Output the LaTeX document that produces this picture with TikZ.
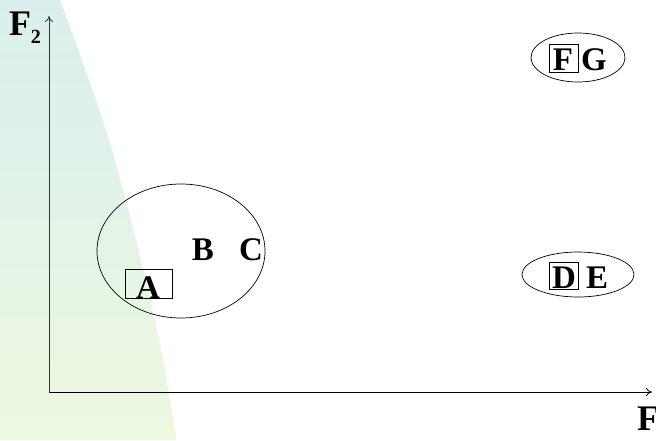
\documentclass[tikz,border=0pt]{standalone}
\usepackage{fontspec}
\setmainfont{Liberation Serif}
\usetikzlibrary{arrows.meta,shapes.geometric}
\definecolor{bgtop}{RGB}{218,239,237}
\definecolor{bgbottom}{RGB}{237,248,224}
\definecolor{axisgray}{HTML}{333333}
\tikzset{
  letter/.style={anchor=base, inner sep=0pt, font=\fontsize{33}{33}\selectfont\bfseries},
  markbox/.style={draw, line width=0.7pt, inner sep=0pt, minimum width=29pt, minimum height=28pt},
  cluster/.style={draw, line width=0.7pt, ellipse, inner sep=0pt},
  axis/.style={-{To[length=6pt,width=8pt]}, draw=axisgray, line width=0.8pt}
}

\begin{document}
\begin{tikzpicture}[x=1pt,y=-1pt]
  \useasboundingbox (0,0) rectangle (656,440);
  % shaded region
  \shade[top color=bgtop, bottom color=bgbottom]
    (0,0) -- plot[smooth, tension=0.6] coordinates {(60,0) (112,150) (157,330) (176,440)}
    -- (0,440) -- cycle;

  % axes
  \coordinate (origin) at (49,392);
  \coordinate (ytip) at (49,16);
  \coordinate (xtip) at (652,392);
  \draw[axis] (origin) -- (ytip);
  \draw[axis, draw=black] (origin) -- (xtip);
  \node[anchor=base, inner sep=0pt] (ylab) at (25,35)
    {\bfseries\fontsize{36}{36}\selectfont F\raisebox{-8pt}{\fontsize{20}{20}\selectfont 2}};
  \node[anchor=base west, inner sep=0pt] (xlab) at (637,430)
    {\bfseries\fontsize{36}{36}\selectfont F\raisebox{-8pt}{\fontsize{20}{20}\selectfont 1}};

  % cluster A B C
  \node[cluster, minimum width=168pt, minimum height=134pt] (abc) at (181,251) {};
  \node[markbox, minimum width=47pt, minimum height=29pt] (boxA) at (148.5,283.5) {};
  \node[letter] (A) at (148,298) {A};
  \node[letter] (B) at (203,260) {B};
  \node[letter] (C) at (251,260) {C};

  % cluster F G
  \node[cluster, minimum width=94pt, minimum height=49pt] (fg) at (578,57.5) {};
  \node[markbox] (boxF) at (563.5,58) {};
  \node[letter] (F) at (563,70) {F};
  \node[letter] (G) at (594,70) {G};

  % cluster D E
  \node[cluster, minimum width=112pt, minimum height=45pt] (de) at (578,274.5) {};
  \node[markbox, minimum height=27pt] (boxD) at (563.5,275.5) {};
  \node[letter] (D) at (564,288) {D};
  \node[letter] (E) at (597,288) {E};
\end{tikzpicture}
\end{document}
